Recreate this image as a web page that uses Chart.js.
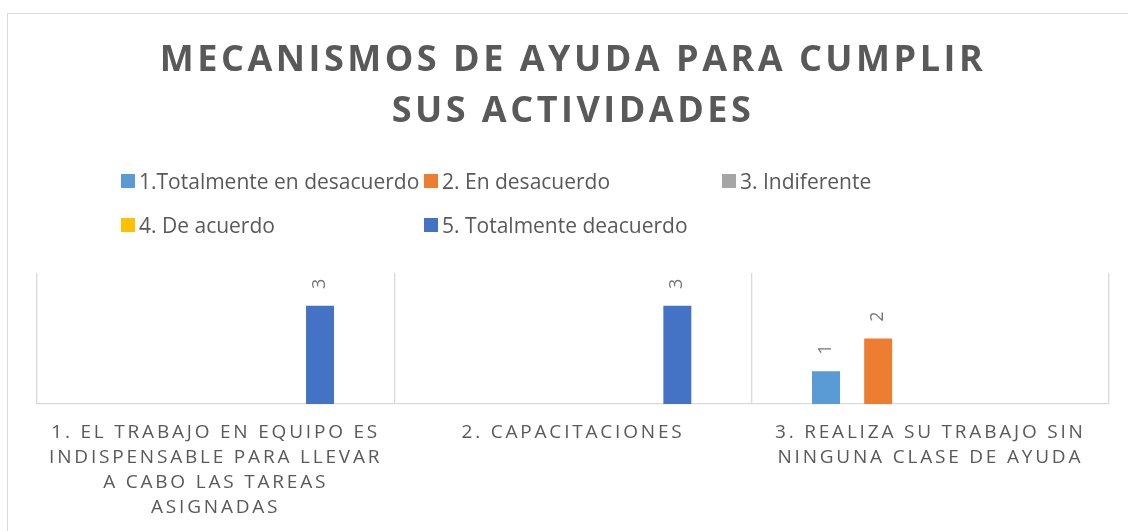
<!DOCTYPE html>
<html>
<head>
<meta charset="utf-8">
<script src="https://cdn.jsdelivr.net/npm/chart.js@4.4.1/dist/chart.umd.min.js"></script>
<style>
  html, body { margin: 0; padding: 0; background: #fff; overflow: hidden; width: 1128px; height: 531px; }
  #wrap { position: relative; width: 1128px; height: 531px; overflow: hidden; }
  #frame { position: absolute; left: 7px; top: 13px; width: 1300px; height: 700px; border: 1.3px solid #d9d9d9; box-sizing: border-box; }
  canvas { position: absolute; left: 0; top: 0; }
  #legend { position: absolute; left: 121px; top: 159px; display: grid; grid-template-columns: 303px 298px auto; row-gap: 0; font-family: "Open Sans", sans-serif; font-size: 21px; color: #595959; }
  .item { display: flex; align-items: center; height: 44px; white-space: nowrap; }
  .sw { width: 14px; height: 14px; margin-right: 4px; flex: none; }
</style>
</head>
<body>
<div id="wrap">
  <div id="frame"></div>
  <canvas id="c" width="1128" height="531"></canvas>
  <div id="legend"></div>
</div>
<script>
const titleLines = ["MECANISMOS DE AYUDA PARA CUMPLIR", "SUS ACTIVIDADES"];
const categories = [
  ["1. EL TRABAJO EN EQUIPO ES", "INDISPENSABLE PARA LLEVAR", "A CABO LAS TAREAS", "ASIGNADAS"],
  ["2. CAPACITACIONES"],
  ["3. REALIZA SU TRABAJO SIN", "NINGUNA CLASE DE AYUDA"]
];
const seriesNames = ["1.Totalmente en desacuerdo", "2. En desacuerdo", "3. Indiferente", "4. De acuerdo", "5. Totalmente deacuerdo"];
const seriesColors = ["#5B9BD5", "#ED7D31", "#A5A5A5", "#FFC000", "#4472C4"];
const totalmenteDesacuerdo = [null, null, 1];
const enDesacuerdo = [null, null, 2];
const indiferente = [null, null, null];
const deAcuerdo = [null, null, null];
const totalmenteDeacuerdo = [3, 3, null];
const seriesValues = [totalmenteDesacuerdo, enDesacuerdo, indiferente, deAcuerdo, totalmenteDeacuerdo];

const spacingPlugin = {
  id: 'spacing',
  beforeDraw(chart) {
    const tb = chart.titleBlock;
    if (tb && !tb._sp) {
      const o = tb.draw.bind(tb);
      tb.draw = function (a) { const c = this.ctx; c.save(); c.letterSpacing = '3.5px'; o(a); c.restore(); };
      tb._sp = true;
    }
    const xs = chart.scales.x;
    if (xs && !xs._sp) {
      const o = xs.drawLabels.bind(xs);
      xs.drawLabels = function (a) { const c = this.ctx; c.save(); c.letterSpacing = '2.8px'; o(a); c.restore(); };
      xs._sp = true;
    }
  }
};

const labelPlugin = {
  id: 'barLabels',
  afterDatasetsDraw(chart) {
    const ctx = chart.ctx;
    chart.data.datasets.forEach((ds, i) => {
      const meta = chart.getDatasetMeta(i);
      meta.data.forEach((bar, j) => {
        const v = ds.data[j];
        if (v === null || v === undefined) return;
        ctx.save();
        ctx.translate(bar.x, bar.y - 22);
        ctx.rotate(-Math.PI / 2);
        ctx.font = '18px "Open Sans", sans-serif';
        ctx.fillStyle = '#767676';
        ctx.textAlign = 'center';
        ctx.textBaseline = 'middle';
        ctx.fillText(String(v), 0, 0);
        ctx.restore();
      });
    });
  }
};

const chart = new Chart(document.getElementById('c'), {
  type: 'bar',
  data: {
    labels: categories,
    datasets: seriesNames.map((n, i) => ({
      label: n,
      data: seriesValues[i],
      backgroundColor: seriesColors[i],
      categoryPercentage: 0.73,
      barPercentage: 0.536
    }))
  },
  options: {
    responsive: false,
    animation: false,
    devicePixelRatio: 1,
    layout: { padding: { left: 37, right: 19, top: 0, bottom: 0 } },
    plugins: {
      legend: { display: false },
      tooltip: { enabled: false },
      title: {
        display: true,
        text: titleLines,
        color: '#595959',
        font: { family: '"Open Sans", sans-serif', size: 36, weight: 'bold', lineHeight: '51px' },
        padding: { top: 35, bottom: 136 }
      }
    },
    scales: {
      x: {
        grid: { offset: true, color: '#d9d9d9', lineWidth: 1.3, drawTicks: false },
        border: { color: '#d9d9d9', width: 1.3 },
        ticks: {
          color: '#595959',
          padding: 16,
          maxRotation: 0,
          minRotation: 0,
          autoSkip: false,
          font: { family: '"Open Sans", sans-serif', size: 19, lineHeight: '25px' }
        },
        afterFit(scale) { scale.height = 127; }
      },
      y: { display: false, min: 0, max: 4 }
    }
  },
  plugins: [spacingPlugin, labelPlugin]
});

const legendEl = document.getElementById('legend');
const items = chart.options.plugins.legend.labels.generateLabels(chart);
items.forEach(it => {
  const d = document.createElement('div');
  d.className = 'item';
  const s = document.createElement('span');
  s.className = 'sw';
  s.style.background = it.fillStyle;
  const t = document.createElement('span');
  t.textContent = it.text;
  d.appendChild(s); d.appendChild(t);
  legendEl.appendChild(d);
});
</script>
</body>
</html>
